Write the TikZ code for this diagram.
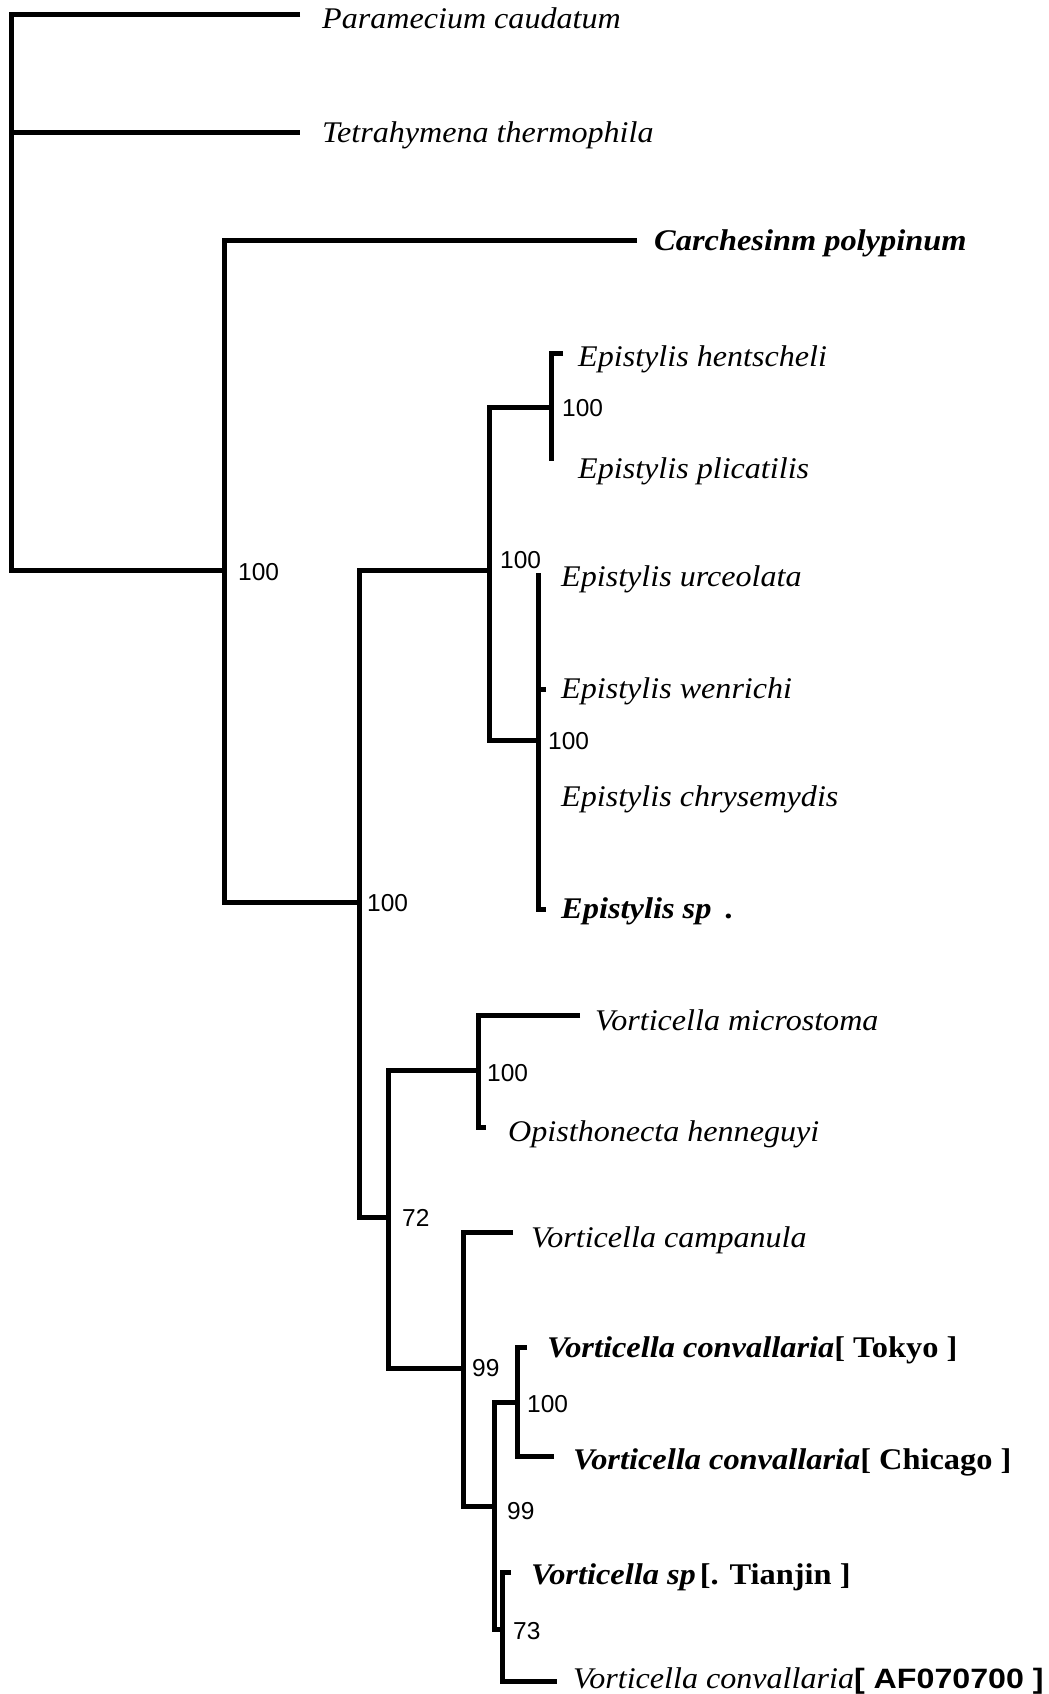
\documentclass[tikz,border=0pt]{standalone}
\usepackage{fontspec}
\setmainfont{Liberation Serif}[FakeStretch=1.07, BoldFeatures={FakeStretch=1.08}, BoldItalicFeatures={FakeStretch=1.08}]
\newfontfamily\numf{Liberation Sans}
\newfontfamily\afont{Liberation Sans}[FakeStretch=1.15]
\begin{document}
\begin{tikzpicture}[x=1pt,y=-1pt,
  br/.style={line width=5pt, line join=miter},
  lab/.style={anchor=base west, inner sep=0pt, font=\fontsize{30}{36}\selectfont\itshape},
  blab/.style={lab, font=\fontsize{30}{36}\selectfont\bfseries\itshape},
  bs/.style={anchor=west, inner sep=0pt, font=\numf\fontsize{24.5}{29}\selectfont}]
\useasboundingbox (0,0) rectangle (1049,1694);
% internal nodes (x of node, y where parent joins)
\coordinate (root) at (11,570);
\coordinate (A) at (224,570);
\coordinate (B) at (359,902);
\coordinate (C) at (489,570);
\coordinate (D) at (551,407);
\coordinate (E) at (538,740);
\coordinate (F) at (388,1217);
\coordinate (G) at (478,1070);
\coordinate (H) at (463,1368);
\coordinate (I) at (494,1506);
\coordinate (J) at (517,1402);
\coordinate (K) at (502,1629);
% tips
\coordinate (tPara) at (300,15);
\coordinate (tTetra) at (300,132);
\coordinate (tCarch) at (637,240);
\coordinate (tHent) at (563,353);
\coordinate (tPlic) at (551,461);
\coordinate (tUrc) at (538,573);
\coordinate (tWen) at (546,689);
\coordinate (tSp) at (546,909);
\coordinate (tMicro) at (580,1015);
\coordinate (tOpis) at (486,1127);
\coordinate (tCamp) at (513,1232);
\coordinate (tTok) at (527,1347);
\coordinate (tChi) at (554,1456);
\coordinate (tTian) at (511,1572);
\coordinate (tAF) at (557,1681);
% branches
\draw[br] (tPara) -| (root) -- (A);
\draw[br] (root) |- (tTetra);
\draw[br] (tCarch) -| (A) |- (B);
\draw[br] (C) -| (B) |- (F);
\draw[br] (D) -| (C) |- (E);
\draw[br] (tHent) -| (D) -- (tPlic);
\draw[br] (tUrc) -- (E) |- (tSp);
\draw[br] (E) |- (tWen);
\draw[br] (G) -| (F) |- (H);
\draw[br] (tMicro) -| (G) |- (tOpis);
\draw[br] (tCamp) -| (H) |- (I);
\draw[br] (J) -| (I) |- (K);
\draw[br] (tTok) -| (J) |- (tChi);
\draw[br] (tTian) -| (K) |- (tAF);
% tip labels
\node[lab] (lPara) at (322,29) {Paramecium caudatum};
\node[lab] (lTetra) at (322,142) {Tetrahymena thermophila};
\node[blab] (lCarch) at (654,250) {Carchesinm polypinum};
\node[lab] (lHent) at (578,366) {Epistylis hentscheli};
\node[lab] (lPlic) at (578,478) {Epistylis plicatilis};
\node[lab] (lUrc) at (561,586) {Epistylis urceolata};
\node[lab] (lWen) at (561,698) {Epistylis wenrichi};
\node[lab] (lChry) at (561,806) {Epistylis chrysemydis};
\node[blab] (lSp) at (561,918) {Epistylis sp\hspace{14pt}.};
\node[lab] (lMicro) at (595,1030) {Vorticella microstoma};
\node[lab] (lOpis) at (508,1141) {Opisthonecta henneguyi};
\node[lab] (lCamp) at (531,1247) {Vorticella campanula};
\node[blab] (lTok) at (547,1357) {Vorticella convallaria{\upshape[ Tokyo ]}};
\node[blab] (lChi) at (573,1469) {Vorticella convallaria{\upshape[ Chicago ]}};
\node[blab] (lTian) at (531,1584) {Vorticella sp\hspace{4pt}{\upshape[. Tianjin ]}};
\node[lab] (lAF) at (573,1688) {Vorticella convallaria{\upshape\afont\bfseries\fontsize{28}{34}\selectfont[ AF070700 ]}};
% bootstrap values
\node[bs] (sRoot) at (238,572) {100};
\node[bs] (sA) at (367,903) {100};
\node[bs] (sC) at (500,560) {100};
\node[bs] (sD) at (562,408) {100};
\node[bs] (sE) at (548,741) {100};
\node[bs] (sB) at (402,1218) {72};
\node[bs] (sG) at (487,1073) {100};
\node[bs] (sH) at (472,1368) {99};
\node[bs] (sJ) at (527,1404) {100};
\node[bs] (sI) at (507,1511) {99};
\node[bs] (sK) at (513,1631) {73};
\end{tikzpicture}
\end{document}
